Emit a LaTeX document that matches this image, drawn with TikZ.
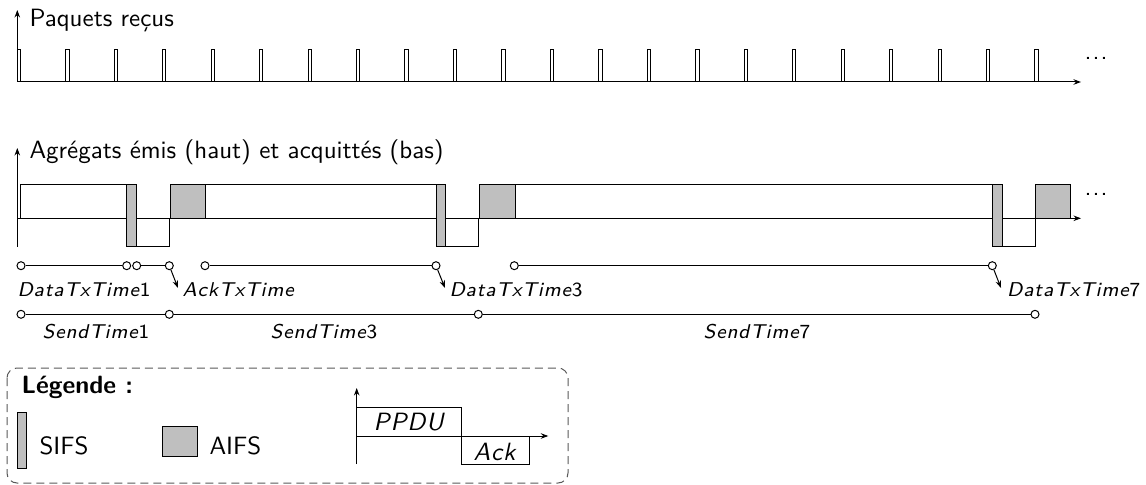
\documentclass[tikz,border=0pt]{standalone}
\usetikzlibrary{arrows.meta}
\renewcommand\familydefault{\sfdefault}
\newcommand\spc[1]{\spcaux#1\relax}
\def\spcaux#1{\ifx#1\relax\else#1\kern\spcamount\expandafter\spcaux\fi}
\def\spcamount{0.35pt}
\newcommand\mi[1]{{\slshape\spc{#1}}}
\newcommand\mdots{.\kern0.45pt.\kern0.45pt.}
\begin{document}
\begin{tikzpicture}[x=0.4pt,y=-0.4pt,font=\sffamily,
  ax/.style={-{Stealth[length=3pt,width=2.2pt]},line width=0.4pt},
  pkt/.style={draw,line width=0.4pt},
  gbox/.style={draw,fill=black!25},
  wbox/.style={draw,fill=white},
  tk/.style={draw,fill=white,circle,inner sep=0pt,minimum size=3.2pt,line width=0.4pt},
  lab/.style={font=\sffamily\footnotesize,inner sep=0pt},
  lgbox/.style={draw=black!65,dash pattern=on 3.2pt off 2pt,rounded corners=4pt}]
\useasboundingbox (0,0) rectangle (1146,485);
% ---------- received packets ----------
\coordinate (o1) at (17.3,82);
\coordinate (x1) at (1081,82);
\coordinate (y1) at (17.3,10);
\draw[ax] (o1) -- (x1);
\draw[ax] (o1) -- (y1);
\node[anchor=base west,inner sep=0pt] (t1) at (29,27) {Paquets reçus};
\foreach \i in {0,...,21}{
  \draw[pkt] ({17.3+48.46*\i},49.3) rectangle ++(3.3,32.7);
}
\node[anchor=base west,inner sep=0pt] (d1) at (1084,60) {\mdots};
% ---------- aggregates ----------
\coordinate (o2) at (17.3,218.3);
\coordinate (x2) at (1081,218.3);
\coordinate (y2) at (17.3,247);
\coordinate (y2t) at (17.3,148);
\draw[ax] (o2) -- (x2);
\draw[ax] (y2) -- (y2t);
\node[anchor=base west,inner sep=0pt] (t2) at (29,159) {Agrégats émis (haut) et acquittés (bas)};
\draw[wbox] (20.7,184.3) rectangle (126.7,218.3);
\draw[gbox] (126.7,184.3) rectangle (136.7,246.7);
\draw[wbox] (136.7,218.3) rectangle (169.7,246.7);
\draw[gbox] (170.3,184.3) rectangle (205.7,218.3);
\draw[wbox] (205.7,184.3) rectangle (436,218.3);
\draw[gbox] (436,184.3) rectangle (445.7,246.7);
\draw[wbox] (445.7,218.3) rectangle (478.5,246.7);
\draw[gbox] (479,184.3) rectangle (515,218.3);
\draw[wbox] (515,184.3) rectangle (992.7,218.3);
\draw[gbox] (992.7,184.3) rectangle (1002,246.7);
\draw[wbox] (1002,218.3) rectangle (1035,246.7);
\draw[gbox] (1035.7,184.3) rectangle (1070.7,218.3);
\node[anchor=base west,inner sep=0pt] (d2) at (1084,196) {\mdots};
% ---------- durations row 1 ----------
\node[tk] (a1) at (21,265.7) {};
\node[tk] (a2) at (126.7,265.7) {};
\node[tk] (a3) at (136.7,265.7) {};
\node[tk] (a4) at (169.3,265.7) {};
\node[tk] (a5) at (205,265.7) {};
\node[tk] (a6) at (436,265.7) {};
\node[tk] (a7) at (514.3,265.7) {};
\node[tk] (a8) at (992.3,265.7) {};
\draw (a1) -- (a2);
\draw (a3) -- (a4);
\draw (a5) -- (a6);
\draw (a7) -- (a8);
\node[lab,anchor=base west] (l1) at (17,296.5) {\mi{DataTxTime}1};
\node[lab,anchor=base west] (l2) at (182,296.5) {\mi{AckTxTime}};
\node[lab,anchor=base west] (l3) at (449,296.5) {\mi{DataTxTime}3};
\node[lab,anchor=base west] (l4) at (1006.7,296.5) {\mi{DataTxTime}7};
\coordinate (e2) at (178,288);
\coordinate (e3) at (445,288);
\coordinate (e4) at (1001,288);
\draw[-{Stealth[length=3pt,width=2.2pt]}] (a4) -- (e2);
\draw[-{Stealth[length=3pt,width=2.2pt]}] (a6) -- (e3);
\draw[-{Stealth[length=3pt,width=2.2pt]}] (a8) -- (e4);
% ---------- durations row 2 ----------
\node[tk] (b1) at (21,314.3) {};
\node[tk] (b2) at (169.3,314.3) {};
\node[tk] (b3) at (478.3,314.3) {};
\node[tk] (b4) at (1035,314.3) {};
\draw (b1) -- (b2);
\draw (b2) -- (b3);
\draw (b3) -- (b4);
\node[lab,anchor=base] (s1) at (96,339) {\mi{SendTime}1};
\node[lab,anchor=base] (s2) at (324,339) {\mi{SendTime}3};
\node[lab,anchor=base] (s3) at (757,339) {\mi{SendTime}7};
% ---------- legend ----------
\draw[lgbox] (7,368) rectangle (568,483);
\node[anchor=base west,inner sep=0pt,font=\sffamily\bfseries] (lg) at (21,393.3) {Légende :};
\draw[gbox] (17.3,412.7) rectangle (26,468.3);
\node[anchor=base west,inner sep=0pt] (sifs) at (39,454) {SIFS};
\draw[gbox] (162.7,426.7) rectangle (197.3,456.7);
\node[anchor=base west,inner sep=0pt] (aifs) at (209,454) {AIFS};
\coordinate (mo) at (356.7,436);
\coordinate (mb) at (356.7,464);
\coordinate (mt) at (356.7,388);
\coordinate (mx) at (548.3,436);
\draw[wbox] (356.7,407.3) rectangle (461.7,436);
\draw[wbox] (461.7,436) rectangle (529.3,464);
\draw[ax] (mo) -- (mx);
\draw[ax] (mb) -- (mt);
\node[inner sep=0pt,anchor=base] (ppdu) at (409,430.7) {\mi{PPDU}};
\node[inner sep=0pt,anchor=base] (ack) at (495,460) {\mi{Ack}};
\end{tikzpicture}
\end{document}
